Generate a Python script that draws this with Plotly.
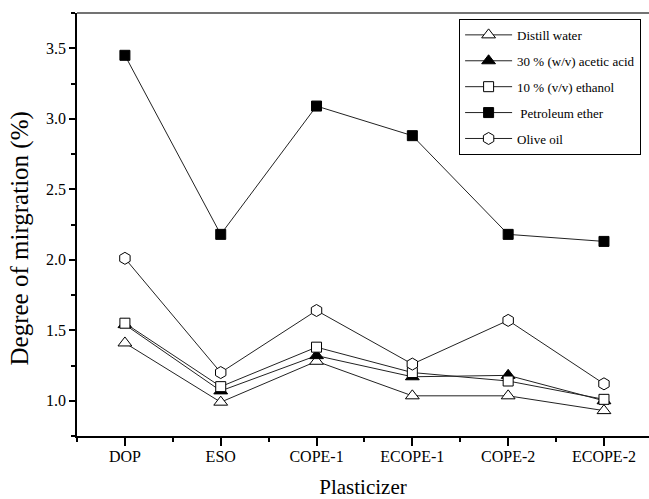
import plotly.graph_objects as go

categories = ["DOP", "ESO", "COPE-1", "ECOPE-1", "COPE-2", "ECOPE-2"]
distill_water = [1.41, 0.99, 1.28, 1.035, 1.035, 0.93]
acetic_acid = [1.54, 1.07, 1.32, 1.17, 1.18, 1.00]
ethanol = [1.55, 1.10, 1.38, 1.20, 1.14, 1.01]
petroleum_ether = [3.45, 2.18, 3.09, 2.88, 2.18, 2.13]
olive_oil = [2.01, 1.20, 1.64, 1.26, 1.57, 1.12]
y_ticks = [1.0, 1.5, 2.0, 2.5, 3.0, 3.5]

xpos = list(range(len(categories)))
FONT = "Liberation Serif"

series = [
    ("Distill water", distill_water, "triangle-up", "white", 12),
    ("30 % (w/v) acetic acid", acetic_acid, "triangle-up", "black", 12),
    ("10 % (v/v) ethanol", ethanol, "square", "white", 10),
    (" Petroleum ether", petroleum_ether, "square", "black", 10),
    ("Olive oil", olive_oil, "hexagon", "white", 12),
]

fig = go.Figure()
for i, (name, vals, sym, fill, size) in enumerate(series):
    fig.add_trace(go.Scatter(
        x=xpos, y=vals, name=name, mode="lines+markers",
        legendgroup=f"g{i}",
        line=dict(color="#222222", width=1),
        marker=dict(symbol=sym, color=fill, size=size,
                    line=dict(color="black", width=1)),
    ))

fig.update_layout(
    width=649, height=499,
    margin=dict(l=77, r=0, t=13, b=63),
    paper_bgcolor="white", plot_bgcolor="white",
    font=dict(family=FONT, color="black", size=16),
    showlegend=True,
    legend=dict(
        x=0.668, y=0.986, xanchor="left", yanchor="top",
        bordercolor="black", borderwidth=1, bgcolor="white",
        font=dict(family=FONT, size=13, color="black"),
        tracegroupgap=6, itemwidth=47,
    ),
    xaxis=dict(
        range=[-0.5, 5.47], tickmode="array", tickvals=xpos, ticktext=categories,
        showline=True, linecolor="black", linewidth=1.5, mirror=False,
        ticks="outside", ticklen=8, tickwidth=1.5, tickcolor="black",
        ticklabelstandoff=-3,
        showgrid=False, zeroline=False,
        tickfont=dict(family=FONT, size=16),
        minor=dict(dtick=0.5, tick0=0, ticks="outside", ticklen=4, tickwidth=1.5, tickcolor="black"),
        title=dict(text="Plasticizer", font=dict(family=FONT, size=21), standoff=19),
    ),
    yaxis=dict(
        range=[0.75, 3.75], tickmode="array", tickvals=y_ticks,
        ticktext=[f"{v:.1f}" for v in y_ticks],
        showline=True, linecolor="black", linewidth=1.5,
        ticks="outside", ticklen=6, tickwidth=1.5, tickcolor="black",
        showgrid=False, zeroline=False,
        tickfont=dict(family=FONT, size=16),
        minor=dict(dtick=0.25, tick0=0, ticks="outside", ticklen=4, tickwidth=1.5, tickcolor="black"),
    ),
    annotations=[dict(
        text="Degree of mirgration (%)", textangle=-90, showarrow=False,
        xref="paper", yref="paper", x=0, y=0.467, xanchor="center", yanchor="middle",
        xshift=-57, font=dict(family=FONT, size=25, color="black"),
    )],
    shapes=[dict(type="line", xref="paper", yref="paper", x0=0, x1=1, y0=1, y1=1,
                 line=dict(color="#444444", width=1.5))],
)

fig.write_html("out.html", config={"displayModeBar": False},
               post_script="document.body.style.margin='0';document.body.style.overflow='hidden';")
